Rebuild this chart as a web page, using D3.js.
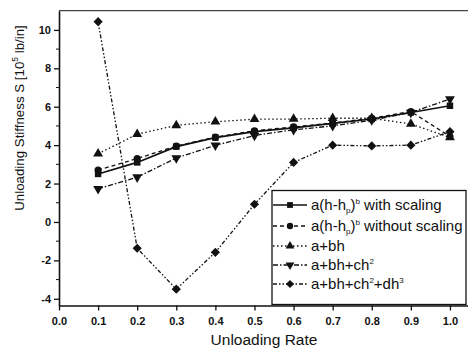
<!DOCTYPE html>
<html>
<head>
<meta charset="utf-8">
<script src="https://cdn.jsdelivr.net/npm/d3@7"></script>
<style>
  body { margin: 0; background: #fff; }
  text { font-family: Arial, "Liberation Sans", sans-serif; fill: #111; }
</style>
</head>
<body>
<div id="chart"></div>
<script>
// unloading rate on x
var rates = [0.1, 0.2, 0.3, 0.4, 0.5, 0.6, 0.7, 0.8, 0.9, 1.0];

// stiffness values for each fit
var withScaling    = [2.5, 3.1, 3.92, 4.39, 4.7, 4.9, 5.13, 5.36, 5.7, 6.05];
var withoutScaling = [2.7, 3.3, 3.95, 4.42, 4.75, 4.95, 5.15, 5.4, 5.75, 4.45];
var linearFit      = [3.55, 4.57, 5.03, 5.22, 5.35, 5.36, 5.4, 5.4, 5.1, 4.4];
var quadFit        = [1.72, 2.33, 3.33, 3.99, 4.5, 4.8, 5.0, 5.3, 5.7, 6.4];
var cubicFit       = [10.43, -1.37, -3.5, -1.58, 0.92, 3.1, 4.0, 3.96, 4.0, 4.7];

var xTicks = [0.0, 0.1, 0.2, 0.3, 0.4, 0.5, 0.6, 0.7, 0.8, 0.9, 1.0];
var yTicks = [-4, -2, 0, 2, 4, 6, 8, 10];
var yMinor = [-3, -1, 1, 3, 5, 7, 9];

var W = 468, H = 354;
var svg = d3.select("#chart").append("svg")
  .attr("width", W).attr("height", H);

var x = d3.scaleLinear().domain([0, 1.05]).range([59, 469.5]);
var y = d3.scaleLinear().domain([-4.35, 11]).range([305.5, 10.7]);

// series definitions
var series = [
  {name: "with", values: withScaling, dash: null, sym: d3.symbolSquare, size: 42, rot: 0},
  {name: "without", values: withoutScaling, dash: "4,3", sym: d3.symbolCircle, size: 40, rot: 0},
  {name: "lin", values: linearFit, dash: "1.5,2.5", sym: d3.symbolTriangle, size: 42, rot: 0},
  {name: "quad", values: quadFit, dash: "5,2,1.5,2", sym: d3.symbolTriangle, size: 42, rot: 180},
  {name: "cubic", values: cubicFit, dash: "4,2,1.5,2,1.5,2", sym: d3.symbolSquare, size: 42, rot: 45}
];

var line = d3.line()
  .x(function(d){ return x(d[0]); })
  .y(function(d){ return y(d[1]); });

series.forEach(function(s){
  var pts = rates.map(function(r, i){ return [r, s.values[i]]; });
  svg.append("path")
    .attr("d", line(pts))
    .attr("fill", "none")
    .attr("stroke", "#111")
    .attr("stroke-width", s.dash ? 1.3 : 1.7)
    .attr("stroke-dasharray", s.dash);
  svg.selectAll(null).data(pts).enter().append("path")
    .attr("d", d3.symbol().type(s.sym).size(s.size))
    .attr("transform", function(d){ return "translate(" + x(d[0]) + "," + y(d[1]) + ") rotate(" + s.rot + ")"; })
    .attr("fill", "#111");
});

// axes
var xAxis = svg.append("g")
  .attr("transform", "translate(0," + y.range()[0] + ")")
  .call(d3.axisBottom(x).tickValues(xTicks).tickFormat(d3.format(".1f")).tickSize(5).tickSizeOuter(0));
xAxis.selectAll("text").attr("font-size", 11).attr("font-weight", "bold").attr("dy", "1em");

var yAxis = svg.append("g")
  .attr("transform", "translate(" + x.range()[0] + ",0)")
  .call(d3.axisLeft(y).tickValues(yTicks).tickSize(5).tickSizeOuter(0)
    .tickFormat(function(d){ return String(d); }));
yAxis.selectAll("text").attr("font-size", 11).attr("font-weight", "bold");
yAxis.selectAll(null).data(yMinor).enter().append("line")
  .attr("x1", -3).attr("x2", 0)
  .attr("y1", function(d){ return y(d); }).attr("y2", function(d){ return y(d); })
  .attr("stroke", "#111");

svg.selectAll(".domain").attr("stroke", "#111").attr("stroke-width", 1.6);
svg.selectAll(".tick line").attr("stroke", "#111").attr("stroke-width", 1.3);

// top frame line
svg.append("line")
  .attr("x1", x.range()[0]).attr("x2", W)
  .attr("y1", y.range()[1]).attr("y2", y.range()[1])
  .attr("stroke", "#444").attr("stroke-width", 1.2);

// axis titles
svg.append("text")
  .attr("x", 264).attr("y", 345)
  .attr("text-anchor", "middle").attr("font-size", 15.5)
  .text("Unloading Rate");

var yt = svg.append("text")
  .attr("transform", "translate(24,118) rotate(-90)")
  .attr("text-anchor", "middle").attr("font-size", 13.3);
yt.append("tspan").text("Unloading Stiffness S [10");
yt.append("tspan").attr("font-size", 8.5).attr("dy", -6).text("5");
yt.append("tspan").attr("dy", 6).text(" lb/in]");

// legend
var legend = svg.append("g");
legend.append("rect")
  .attr("x", 272).attr("y", 190.5).attr("width", 194).attr("height", 114)
  .attr("fill", "#fff").attr("stroke", "#111").attr("stroke-width", 1.3);

var rowY = [205, 226, 246, 265, 284];
series.forEach(function(s, i){
  var g = legend.append("g").attr("transform", "translate(0," + rowY[i] + ")");
  g.append("line").attr("x1", 273).attr("x2", 307).attr("y1", 0).attr("y2", 0)
    .attr("stroke", "#111").attr("stroke-width", s.dash ? 1.3 : 1.7)
    .attr("stroke-dasharray", s.dash);
  g.append("path")
    .attr("d", d3.symbol().type(s.sym).size(s.size * 0.8))
    .attr("transform", "translate(290,0) rotate(" + s.rot + ")")
    .attr("fill", "#111");
});

// parts: [text, dy, size]
function addLabel(i, parts){
  var t = legend.append("text").attr("x", 311).attr("y", rowY[i] + 5).attr("font-size", 15);
  parts.forEach(function(p){
    var ts = t.append("tspan").text(p[0]);
    if (p[1]) ts.attr("dy", p[1]);
    if (p[2]) ts.attr("font-size", p[2]);
  });
}
addLabel(0, [["a(h-h"], ["p", 3, 8], [")", -3], ["b", -6, 8], [" with scaling", 6]]);
addLabel(1, [["a(h-h"], ["p", 3, 8], [")", -3], ["b", -6, 8], [" without scaling", 6]]);
addLabel(2, [["a+bh"]]);
addLabel(3, [["a+bh+ch"], ["2", -6, 8]]);
addLabel(4, [["a+bh+ch"], ["2", -6, 8], ["+dh", 6], ["3", -6, 8]]);
</script>
</body>
</html>
